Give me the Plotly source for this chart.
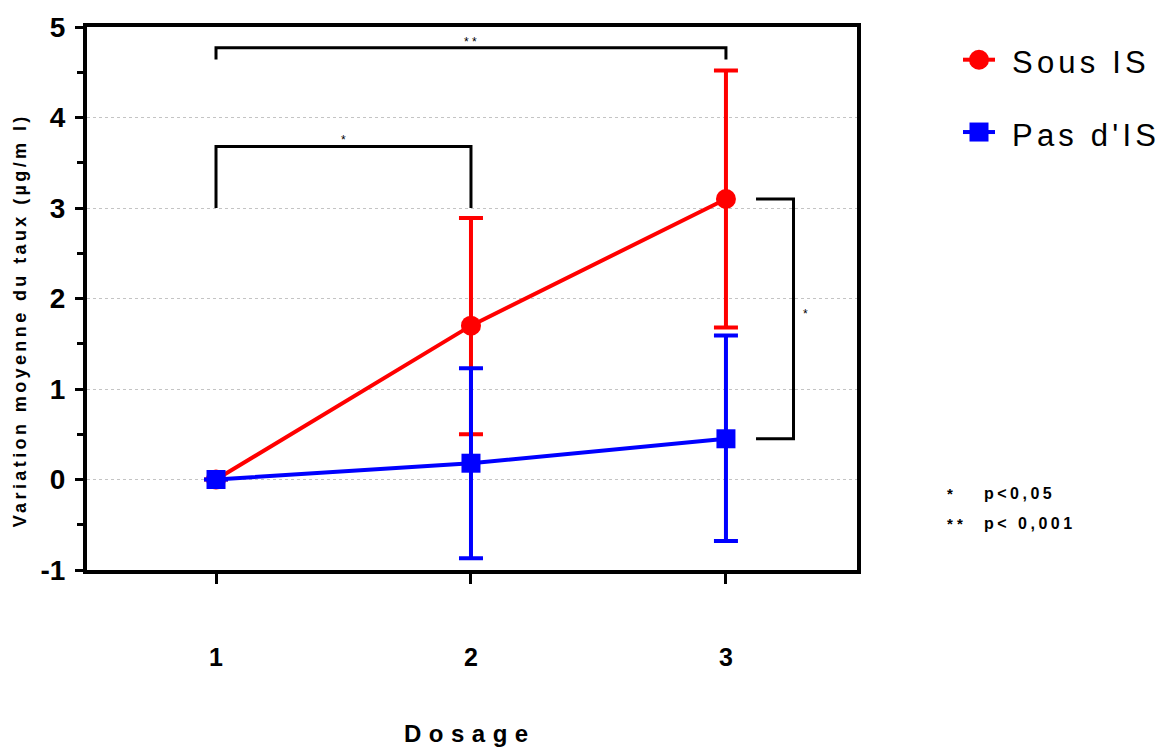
import plotly.graph_objects as go

# ---- data ----
dosage = [1, 2, 3]
sous_is_mean = [0.0, 1.70, 3.10]
sous_is_upper = [0.0, 2.89, 4.52]
sous_is_lower = [0.0, 0.50, 1.68]
pas_is_mean = [0.0, 0.18, 0.45]
pas_is_upper = [0.0, 1.23, 1.59]
pas_is_lower = [0.0, -0.87, -0.68]

series_names = ["Sous IS", "Pas d'IS"]
y_ticks = [-1, 0, 1, 2, 3, 4, 5]
y_minor = [-0.5, 0.5, 1.5, 2.5, 3.5, 4.5]
x_ticks = [1, 2, 3]

# significance brackets: (x_start, x_end, y_top, y_leg_end, label)
brackets_top = [(1, 3, 4.77, 4.64, "* *"), (1, 2, 3.68, 3.00, "*")]
# vertical bracket right of x=3 between the two series means
bracket_side_x = (3.118, 3.265)
bracket_side_label = "*"

RED = "#ff0000"
BLUE = "#0000ff"
FONT = "Liberation Sans, Arial, sans-serif"

# plot area in pixels (for paper-coordinate placement of the key)
L, T, W, H = 87, 22, 770, 548


def px(x):
    return (x - L) / W


def py(y):
    return 1 - (y - T) / H


def spaced(t, s):
    return f'<span style="letter-spacing:{s}px">{t}</span>'


def err(up, lo, mean):
    return dict(type="data", symmetric=False,
                array=[u - m for u, m in zip(up, mean)],
                arrayminus=[m - l for m, l in zip(mean, lo)],
                thickness=4, width=12)


fig = go.Figure()
fig.add_trace(go.Scatter(
    x=dosage, y=sous_is_mean, mode="lines+markers", name=series_names[0],
    line=dict(color=RED, width=4),
    marker=dict(symbol="circle", size=20, color=RED),
    error_y=dict(color=RED, **err(sous_is_upper, sous_is_lower, sous_is_mean)),
))
fig.add_trace(go.Scatter(
    x=dosage, y=pas_is_mean, mode="lines+markers", name=series_names[1],
    line=dict(color=BLUE, width=4),
    marker=dict(symbol="square", size=19, color=BLUE),
    error_y=dict(color=BLUE, **err(pas_is_upper, pas_is_lower, pas_is_mean)),
))

shapes = []
annotations = []
for x0, x1, yt, yl, lab in brackets_top:
    shapes.append(dict(type="path", xref="x", yref="y",
                       path=f"M {x0} {yl} L {x0} {yt} L {x1} {yt} L {x1} {yl}",
                       line=dict(color="black", width=3)))
    annotations.append(dict(x=(x0 + x1) / 2, y=yt, xref="x", yref="y", text=lab,
                            showarrow=False, yanchor="bottom", yshift=-3,
                            font=dict(family=FONT, size=12, color="black")))

bx0, bx1 = bracket_side_x
ya, yb = sous_is_mean[2], pas_is_mean[2]
shapes.append(dict(type="path", xref="x", yref="y",
                   path=f"M {bx0} {ya} L {bx1} {ya} L {bx1} {yb} L {bx0} {yb}",
                   line=dict(color="black", width=3)))
annotations.append(dict(x=bx1, y=(ya + yb) / 2 + 0.05, xref="x", yref="y",
                        text=bracket_side_label, showarrow=False, xanchor="left",
                        xshift=7, font=dict(family=FONT, size=12, color="black")))

# ---- manual legend (keeps the plot area fixed) ----
leg_colors = [RED, BLUE]
leg_shapes = ["circle", "rect"]
leg_line_y = [55, 128]
leg_text_y = [58, 131]
for name, col, shp, ly, ty in zip(series_names, leg_colors, leg_shapes, leg_line_y, leg_text_y):
    shapes.append(dict(type="line", xref="paper", yref="paper",
                       x0=px(963), x1=px(995), y0=py(ly), y1=py(ly),
                       line=dict(color=col, width=4)))
    r = 10 if shp == "circle" else 9.5
    shapes.append(dict(type=shp, xref="paper", yref="paper",
                       xsizemode="pixel", ysizemode="pixel",
                       xanchor=px(979), yanchor=py(ly),
                       x0=-r, x1=r, y0=-r, y1=r,
                       fillcolor=col, line=dict(color=col, width=0)))
    annotations.append(dict(xref="paper", yref="paper", x=px(1010), y=py(ty),
                            xanchor="left", yanchor="middle",
                            text=spaced(name, 4.2), showarrow=False,
                            font=dict(family=FONT, size=31, color="black")))

# y-axis title
annotations.append(dict(xref="paper", yref="paper", x=px(20), y=py(318),
                        xanchor="center", yanchor="middle",
                        text=spaced("<b>Variation moyenne du taux (µg/m l)</b>", 3.4),
                        textangle=-90, showarrow=False,
                        font=dict(family=FONT, size=18, color="black")))
# x-axis title
annotations.append(dict(xref="paper", yref="paper", x=px(470), y=py(735),
                        xanchor="center", yanchor="middle",
                        text=spaced("<b>Dosage</b>", 7.5), showarrow=False,
                        font=dict(family=FONT, size=24, color="black")))
# p-value key
key_stars = ["*", "* *"]
key_text = ["p<0,05", "p< 0,001"]
key_y = [493, 523]
for st, tx, yy in zip(key_stars, key_text, key_y):
    annotations.append(dict(xref="paper", yref="paper", x=px(945), y=py(yy),
                            xanchor="left", yanchor="middle", text=f"<b>{st}</b>",
                            showarrow=False,
                            font=dict(family=FONT, size=15, color="black")))
    annotations.append(dict(xref="paper", yref="paper", x=px(982), y=py(yy),
                            xanchor="left", yanchor="middle",
                            text=spaced(f"<b>{tx}</b>", 3.5), showarrow=False,
                            font=dict(family=FONT, size=16, color="black")))

fig.update_layout(
    width=1161, height=750,
    margin=dict(l=L, r=1161 - L - W, t=T, b=750 - T - H),
    plot_bgcolor="white", paper_bgcolor="white",
    font=dict(family=FONT, color="black"),
    showlegend=False,
    shapes=shapes,
    annotations=annotations,
)
fig.update_xaxes(range=[0.494, 3.514], tickvals=x_ticks, ticktext=[f"<b>{v}</b>" for v in x_ticks],
                 showline=True, linecolor="black", linewidth=4, mirror=True,
                 ticks="outside", ticklen=10, tickwidth=3, tickcolor="black",
                 ticklabelstandoff=52, tickfont=dict(family=FONT, size=25, color="black"),
                 showgrid=False, zeroline=False)
fig.update_yaxes(range=[-1, 5], tickvals=y_ticks, ticktext=[f"<b>{v}</b>" for v in y_ticks],
                 showline=True, linecolor="black", linewidth=4, mirror=True,
                 ticks="outside", ticklen=8, tickwidth=3, tickcolor="black",
                 ticklabelstandoff=4,
                 tickfont=dict(family=FONT, size=28, color="black"),
                 minor=dict(tickvals=y_minor, ticks="outside",
                            ticklen=6, tickwidth=3, tickcolor="black", showgrid=False),
                 showgrid=True, gridcolor="#c4c4c4", griddash="dot", gridwidth=1,
                 zeroline=False)

fig.write_html("out.html")
